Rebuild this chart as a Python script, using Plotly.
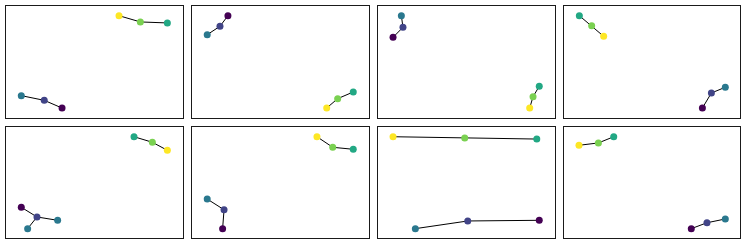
import plotly.graph_objects as go

# viridis colours of the six points in each panel (order: purple, indigo, teal, green, lime, yellow)
colors = ["#440154", "#414487", "#2a788e", "#22a884", "#7ad151", "#fde725"]

# x / y values per panel, point order: purple, indigo, teal, green, lime, yellow
px = [
    [0.316, 0.215, 0.085, 0.913, 0.760, 0.639],
    [0.203, 0.158, 0.086, 0.911, 0.823, 0.761],
    [0.085, 0.141, 0.132, 0.911, 0.876, 0.857],
    [0.785, 0.836, 0.915, 0.087, 0.157, 0.225],
    [0.085, 0.174, 0.291, 0.724, 0.828, 0.913],
    [0.173, 0.181, 0.086, 0.911, 0.795, 0.706],
    [0.911, 0.507, 0.211, 0.897, 0.490, 0.085],
    [0.722, 0.811, 0.915, 0.282, 0.195, 0.085],
]
py = [
    [0.085, 0.154, 0.196, 0.848, 0.857, 0.913],
    [0.913, 0.818, 0.743, 0.229, 0.169, 0.085],
    [0.719, 0.809, 0.913, 0.280, 0.187, 0.085],
    [0.085, 0.220, 0.271, 0.913, 0.823, 0.728],
    [0.276, 0.189, 0.159, 0.910, 0.860, 0.788],
    [0.084, 0.254, 0.350, 0.797, 0.815, 0.910],
    [0.159, 0.153, 0.084, 0.889, 0.898, 0.910],
    [0.084, 0.137, 0.171, 0.910, 0.854, 0.833],
]
# extra teal point in panel 5, joined to its indigo point
extra_panel = 4
extra_x = [0.121]
extra_y = [0.084]

fig = go.Figure()

W, H = 747, 245
xdom_px = [(6.3, 182.7), (192, 369), (378, 555), (564, 740.3)]
ydom_px = [(6, 117.5), (126.7, 238)]

for i in range(8):
    r, c = divmod(i, 4)
    n = i + 1
    xa = "x" if n == 1 else f"x{n}"
    ya = "y" if n == 1 else f"y{n}"
    xs, ys = px[i], py[i]
    for grp in ([0, 1, 2], [3, 4, 5]):
        fig.add_trace(go.Scatter(x=[xs[k] for k in grp], y=[ys[k] for k in grp],
                                 mode="lines", line=dict(color="black", width=1),
                                 xaxis=xa, yaxis=ya, showlegend=False, hoverinfo="skip"))
    mx, my, mc = list(xs), list(ys), list(colors)
    if i == extra_panel:
        fig.add_trace(go.Scatter(x=[xs[1], extra_x[0]], y=[ys[1], extra_y[0]],
                                 mode="lines", line=dict(color="black", width=1),
                                 xaxis=xa, yaxis=ya, showlegend=False, hoverinfo="skip"))
        mx += extra_x
        my += extra_y
        mc += [colors[2]]
    fig.add_trace(go.Scatter(x=mx, y=my, mode="markers",
                             marker=dict(color=mc, size=7, line=dict(width=0)),
                             xaxis=xa, yaxis=ya, showlegend=False))
    x0, x1 = xdom_px[c]
    y0, y1 = ydom_px[r]
    axcommon = dict(range=[0, 1], showgrid=False, zeroline=False, showticklabels=False,
                    ticks="", showline=True, mirror=True, linecolor="#1a1a1a", linewidth=1)
    fig.layout[f"xaxis{'' if n == 1 else n}"] = dict(domain=[x0 / W, x1 / W], anchor=ya, **axcommon)
    fig.layout[f"yaxis{'' if n == 1 else n}"] = dict(domain=[1 - y1 / H, 1 - y0 / H], anchor=xa, **axcommon)

fig.update_layout(width=W, height=H, margin=dict(l=0, r=0, t=0, b=0),
                  paper_bgcolor="white", plot_bgcolor="white")
fig.write_html("out.html", config={"displayModeBar": False},
               post_script="document.body.style.margin='0';document.body.style.padding='0';")
